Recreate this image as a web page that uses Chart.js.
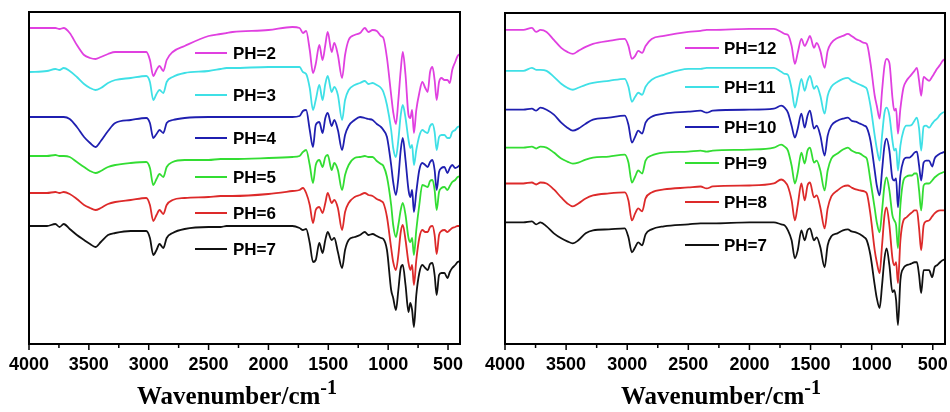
<!DOCTYPE html>
<html>
<head>
<meta charset="utf-8">
<script src="https://cdn.jsdelivr.net/npm/chart.js@4/dist/chart.umd.min.js"></script>
<style>
  body { margin: 0; background: #fff; width: 950px; height: 412px; overflow: hidden; position: relative; }
  .panel { position: absolute; top: 0; width: 475px; height: 412px; }
  .xtitle { position: absolute; top: 382px; line-height: 24px; white-space: nowrap; transform: translateX(-50%);
            font: bold 25px "Liberation Serif", "Times New Roman", serif; color: #000; }
  .xtitle .sup { font-size: 20px; position: relative; top: -10px; }
</style>
</head>
<body>
<div class="panel" style="left:0">
  <canvas id="left" width="475" height="412"></canvas>
  <div class="xtitle" style="left:237px">Wavenumber/cm<span class="sup">-1</span></div>
</div>
<div class="panel" style="left:475px">
  <canvas id="right" width="475" height="412"></canvas>
  <div class="xtitle" style="left:246px">Wavenumber/cm<span class="sup">-1</span></div>
</div>
<script>
// wavenumber grid (cm-1) shared by every spectrum
const wavenumbers = [4000, 3850, 3780, 3745, 3710, 3660, 3600, 3540, 3490, 3445,
  3400, 3340, 3280, 3150, 3020, 2990, 2962, 2935, 2910, 2878,
  2850, 2800, 2700, 2500, 2400, 2350, 2300, 2000, 1800, 1740,
  1712, 1685, 1655, 1628, 1605, 1575, 1548, 1525, 1505, 1472,
  1450, 1420, 1385, 1360, 1330, 1280, 1235, 1195, 1165, 1130,
  1095, 1060, 1040, 1010, 975, 958, 935, 915, 895, 878,
  855, 830, 815, 800, 785, 765, 740, 715, 690, 670,
  650, 630, 612, 595, 575, 555, 530, 505, 485, 465,
  440, 420, 400];

const tickValues = [4000, 3500, 3000, 2500, 2000, 1500, 1000, 500];
const minorTickValues = [3750, 3250, 2750, 2250, 1750, 1250, 750];

const leftLabels = ['PH=2', 'PH=3', 'PH=4', 'PH=5', 'PH=6', 'PH=7'];
const rightLabels = ['PH=12', 'PH=11', 'PH=10', 'PH=9', 'PH=8', 'PH=7'];

// transmittance, arbitrary units, curves stacked
const ph2 = [316,316,316,315,316,311,299,289,286,285,
  287,290,292,292,292,284,268,274,278,273,
  284,292,298,308,310,311,312,314,317,316,
  311,313,294,271,280,299,284,299,312,292,
  301,289,266,289,304,309,311,316,312,314,
  313,308,306,286,249,232,220,244,274,292,
  269,229,226,234,211,234,251,262,256,252,
  272,277,264,244,262,266,264,264,261,274,
  282,288,290];
const ph3 = [272,273,275,274,276,273,267,260,256,254,
  256,261,264,266,268,262,244,250,254,251,
  262,267,271,273,275,276,276,277,277,277,
  272,270,256,234,244,259,244,260,268,252,
  257,249,224,244,254,259,261,263,260,261,
  259,256,252,239,214,196,187,204,229,239,
  226,204,196,199,179,194,208,214,212,211,
  218,220,212,194,207,209,209,206,206,212,
  214,217,218];
const ph4 = [227,227,227,227,227,225,217,207,201,197,
  203,213,221,224,226,221,206,210,214,211,
  221,224,226,227,227,227,227,227,227,228,
  233,234,214,197,219,222,211,226,231,218,
  224,214,194,209,218,224,227,226,225,224,
  220,217,214,207,179,162,149,166,194,206,
  184,154,147,154,132,152,174,181,179,177,
  182,184,174,154,172,176,177,171,176,179,
  176,177,179];
const ph5 = [188,188,189,188,188,187,182,177,173,171,
  173,177,179,181,182,176,159,165,170,167,
  177,182,184,184,185,185,185,186,187,188,
  192,194,179,161,179,184,177,187,189,174,
  181,174,154,169,179,186,187,188,187,187,
  183,180,178,167,139,119,107,119,134,141,
  129,106,102,106,89,114,139,159,158,157,
  163,164,154,134,152,156,157,154,158,162,
  164,167,168];
const ph6 = [151,151,152,151,152,150,145,139,136,134,
  136,140,142,144,146,139,123,129,134,130,
  139,144,146,147,148,148,148,150,153,154,
  156,151,139,121,134,137,131,141,151,141,
  144,136,114,132,141,147,149,151,149,148,
  145,143,141,127,96,82,74,89,112,119,
  104,81,74,79,59,84,106,114,112,112,
  117,118,109,90,109,113,114,112,114,116,
  117,118,118];
const ph7Left = [118,118,120,117,120,115,109,104,100,97,
  102,109,111,113,113,106,89,94,100,96,
  106,111,115,117,117,118,118,118,118,116,
  114,115,101,82,84,101,91,104,112,104,
  106,92,76,94,104,107,109,112,109,110,
  108,106,105,94,54,46,34,54,76,79,
  59,32,41,34,17,49,71,79,76,74,
  80,81,69,49,69,71,71,66,72,76,
  79,82,83];

const ph12 = [315,315,317,313,315,313,305,297,293,291,
  294,298,301,304,306,299,286,289,294,292,
  299,306,309,313,314,315,315,316,316,313,
  311,310,299,281,292,306,299,304,309,297,
  302,294,277,294,302,307,309,311,309,306,
  304,302,301,282,249,239,226,254,279,286,
  282,247,234,236,211,236,257,264,268,271,
  274,277,264,249,268,266,264,268,272,276,
  280,284,286];
const ph11 = [274,274,277,275,275,274,268,261,257,255,
  257,260,262,264,266,258,243,248,252,250,
  258,265,270,276,276,277,277,277,277,273,
  271,270,256,237,249,266,254,264,269,256,
  259,249,231,249,258,263,266,267,264,262,
  260,258,256,239,209,196,184,209,232,237,
  229,204,194,196,174,199,214,219,219,220,
  224,227,216,194,218,219,217,221,224,226,
  230,232,233];
const ph10 = [235,235,236,234,237,235,230,222,217,214,
  216,221,225,227,229,220,202,208,214,211,
  222,228,231,233,234,232,234,235,236,239,
  237,232,219,207,216,231,217,229,234,216,
  219,209,189,209,219,224,226,227,224,223,
  221,219,217,204,174,159,149,174,199,206,
  194,166,164,166,137,169,184,187,187,189,
  192,193,179,164,182,184,184,178,186,189,
  191,192,193];
const ph9 = [197,197,198,196,198,197,192,186,183,181,
  182,185,187,188,190,182,162,168,174,171,
  184,189,192,193,194,193,194,195,197,200,
  198,194,179,161,172,192,181,194,197,182,
  184,174,154,174,186,191,195,197,194,192,
  191,188,186,164,136,122,112,134,159,167,
  154,129,124,119,96,139,164,168,169,169,
  171,171,154,134,159,161,161,164,167,169,
  171,172,173];
const ph8 = [161,161,162,160,162,161,155,147,141,138,
  141,146,149,151,152,144,124,131,136,133,
  146,152,155,157,158,156,158,159,161,165,
  163,158,144,124,139,161,144,159,162,147,
  149,137,116,136,148,154,158,159,157,155,
  154,153,151,130,94,82,71,99,129,137,
  119,86,79,82,61,104,124,127,130,132,
  134,134,116,94,119,123,124,128,131,133,
  134,134,134];
const ph7Right = [122,122,123,120,122,118,111,106,103,101,
  104,111,114,115,116,107,92,97,102,99,
  110,115,118,120,121,121,121,122,122,120,
  119,114,104,86,94,114,104,114,116,104,
  107,97,77,99,108,111,114,115,113,112,
  110,107,104,89,59,46,36,59,86,96,
  79,52,54,44,19,64,76,79,80,81,
  82,82,69,51,74,74,74,67,77,79,
  82,84,85];

const lineColors = ['#e040e0', '#3fe0e6', '#1f1fb0', '#33dd33', '#dd2a2a', '#111111'];
const tickFont = { family: 'Arial, "Liberation Sans", sans-serif', size: 18, weight: 'bold' };

// frame + outward ticks
const framePlugin = {
  id: 'frame',
  afterDraw(chart) {
    const { ctx, chartArea: a, scales: { x } } = chart;
    ctx.save();
    ctx.strokeStyle = '#000';
    ctx.lineWidth = 2;
    ctx.strokeRect(a.left, a.top, a.right - a.left, a.bottom - a.top);
    ctx.lineWidth = 1.5;
    ctx.beginPath();
    tickValues.forEach(v => {
      const px = x.getPixelForValue(v);
      ctx.moveTo(px, a.bottom); ctx.lineTo(px, a.bottom + 6);
    });
    minorTickValues.forEach(v => {
      const px = x.getPixelForValue(v);
      ctx.moveTo(px, a.bottom); ctx.lineTo(px, a.bottom + 4);
    });
    ctx.stroke();
    ctx.restore();
  }
};

// legend entries sitting beside each curve
const phLegendPlugin = {
  id: 'phLegend',
  afterDraw(chart, args, opts) {
    const { ctx } = chart;
    ctx.save();
    ctx.font = 'bold 17px Arial, "Liberation Sans", sans-serif';
    ctx.textBaseline = 'middle';
    chart.data.datasets.forEach((ds, i) => {
      const y = opts.ys[i];
      ctx.strokeStyle = ds.borderColor;
      ctx.lineWidth = 2;
      ctx.beginPath();
      ctx.moveTo(opts.x0, y); ctx.lineTo(opts.x1, y);
      ctx.stroke();
      ctx.fillStyle = '#000';
      ctx.fillText(ds.label, opts.textX, y + 1);
    });
    ctx.restore();
  }
};

function makeChart(id, labels, series, pad, legend) {
  return new Chart(document.getElementById(id), {
    type: 'line',
    data: {
      datasets: series.map((s, i) => ({
        label: labels[i],
        data: wavenumbers.map((w, j) => ({ x: w, y: s[j] })),
        borderColor: lineColors[i],
        borderWidth: 1.8,
        pointRadius: 0,
        fill: false,
        cubicInterpolationMode: 'monotone'
      }))
    },
    options: {
      responsive: false,
      animation: false,
      devicePixelRatio: 1,
      layout: { padding: { left: pad.left, right: pad.right, top: pad.top, bottom: 0 } },
      plugins: {
        legend: { display: false },
        tooltip: { enabled: false },
        phLegend: legend
      },
      scales: {
        x: {
          type: 'linear',
          reverse: true,
          min: 400,
          max: 4000,
          afterBuildTicks: s => { s.ticks = tickValues.map(v => ({ value: v })); },
          afterFit: s => { s.height = 68; s.paddingLeft = 0; s.paddingRight = 0; },
          grid: { display: false, drawTicks: false },
          border: { display: false },
          ticks: {
            color: '#000', font: tickFont, padding: 10, maxRotation: 0, autoSkip: false,
            callback: v => String(v)
          }
        },
        y: { display: false, min: 0, max: 332 }
      }
    },
    plugins: [framePlugin, phLegendPlugin]
  });
}

makeChart('left', leftLabels, [ph2, ph3, ph4, ph5, ph6, ph7Left],
  { left: 29, right: 15, top: 12 },
  { x0: 195, x1: 227, textX: 233, ys: [53, 95, 138, 177, 213, 249] });

makeChart('right', rightLabels, [ph12, ph11, ph10, ph9, ph8, ph7Right],
  { left: 30, right: 5, top: 13 },
  { x0: 210, x1: 244, textX: 249, ys: [48, 87, 127, 163, 202, 245] });
</script>
</body>
</html>
